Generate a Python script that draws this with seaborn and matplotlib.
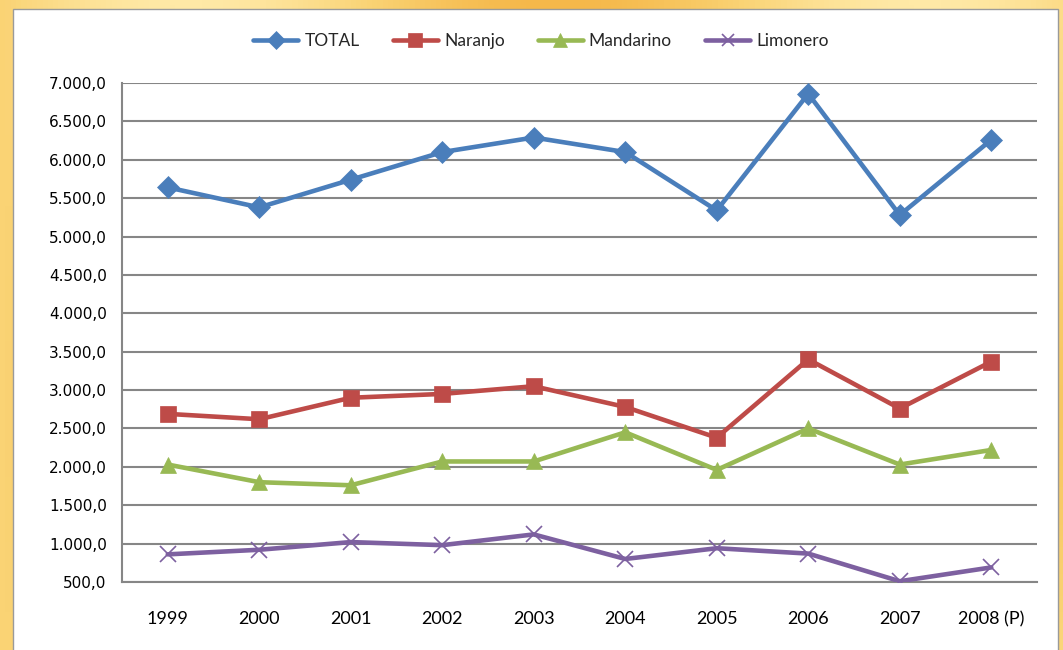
import numpy as np
import pandas as pd
import matplotlib
matplotlib.use("Agg")
import matplotlib.pyplot as plt
from matplotlib.patches import Rectangle
from matplotlib.ticker import FuncFormatter, FixedLocator, NullFormatter
from matplotlib.colors import LinearSegmentedColormap
import seaborn as sns

years = ["1999", "2000", "2001", "2002", "2003", "2004", "2005", "2006", "2007", "2008 (P)"]
total = [5640, 5380, 5740, 6100, 6290, 6100, 5340, 6860, 5280, 6260]
naranjo = [2690, 2620, 2900, 2950, 3050, 2780, 2380, 3400, 2760, 3370]
mandarino = [2030, 1800, 1760, 2070, 2070, 2450, 1960, 2500, 2030, 2220]
limonero = [860, 920, 1020, 980, 1120, 800, 940, 870, 510, 690]
series_names = ["TOTAL", "Naranjo", "Mandarino", "Limonero"]

df = pd.DataFrame({"Año": years, "TOTAL": total, "Naranjo": naranjo,
                   "Mandarino": mandarino, "Limonero": limonero})
long = df.melt(id_vars="Año", var_name="Serie", value_name="Valor")
long["x"] = long["Año"].map({y: i for i, y in enumerate(years)})

sns.set_theme(style="white")
plt.rcParams["font.family"] = ["Lato", "DejaVu Sans"]

W, H = 1063, 650
fig = plt.figure(figsize=(W / 100, H / 100), dpi=100)

# orange background
bg = fig.add_axes([0, 0, 1, 1], zorder=-10)
gx = np.linspace(0, 1, 200)
gy = np.linspace(0, 1, 120)
GX, GY = np.meshgrid(gx, gy)
grad = 0.5 + 0.3 * np.sin(GX * 9) * np.cos(GY * 5)
cmap = LinearSegmentedColormap.from_list("o", ["#F5B84A", "#FAD374", "#FFE9A6"])
bg.imshow(grad, cmap=cmap, aspect="auto", extent=[0, 1, 0, 1])
bg.set_axis_off()
bg.add_patch(Rectangle((13 / W, -0.01), (1058 - 13) / W, 1 - 9 / H + 0.01,
                       transform=bg.transAxes, facecolor="white",
                       edgecolor="#9a9a9a", linewidth=1.0))
bg.set_xlim(0, 1)
bg.set_ylim(0, 1)

ax = fig.add_axes([122 / W, 1 - 582 / H, (1037 - 122) / W, (582 - 83) / H])
ax.set_facecolor("none")

palette = {"TOTAL": "#4A7EBB", "Naranjo": "#BE4B48", "Mandarino": "#98B954", "Limonero": "#7D60A0"}
markers = {"TOTAL": "D", "Naranjo": "s", "Mandarino": "^", "Limonero": "x"}
sizes_m = {"TOTAL": 11, "Naranjo": 11.5, "Mandarino": 12, "Limonero": 11}

for name in series_names:
    sub = long[long["Serie"] == name]
    sns.lineplot(data=sub, x="x", y="Valor", ax=ax, color=palette[name],
                 marker=markers[name], markersize=sizes_m[name],
                 markeredgecolor=palette[name], markeredgewidth=1.2 if name == "Limonero" else 0.5,
                 linewidth=3.3, label=name, zorder=3)

ax.set_xlim(-0.5, 9.5)
ax.set_ylim(500, 7000)
ax.set_yticks(np.arange(500, 7001, 500))
ax.yaxis.set_major_formatter(FuncFormatter(
    lambda v, p: f"{v:,.1f}".replace(",", "X").replace(".", ",").replace("X", ".")))
ax.set_xticks(range(len(years)))
ax.set_xticklabels(years)
ax.xaxis.set_minor_locator(FixedLocator(np.arange(-0.5, 10, 1)))
ax.xaxis.set_minor_formatter(NullFormatter())
ax.tick_params(axis="x", which="major", length=0, pad=21, labelsize=13, colors="black")
ax.tick_params(axis="x", which="minor", length=6, width=1.2, color="#868686", direction="out")
ax.tick_params(axis="y", which="major", length=6, width=1.2, color="#868686", direction="out",
               labelsize=11, colors="black", pad=5)
for lbl in ax.get_yticklabels():
    lbl.set_family(["DejaVu Sans"])
    lbl.set_color("black")
for lbl in ax.get_xticklabels():
    lbl.set_color("black")
ax.grid(axis="y", color="#868686", linewidth=1.5, zorder=0)
ax.set_axisbelow(True)
for s in ["top", "right"]:
    ax.spines[s].set_visible(False)
for s in ["left", "bottom"]:
    ax.spines[s].set_visible(True)
    ax.spines[s].set_color("#868686")
    ax.spines[s].set_linewidth(1.5)
ax.set_xlabel("")
ax.set_ylabel("")

ax.legend(loc="center", bbox_to_anchor=(541 / W, (H - 41) / H), bbox_transform=fig.transFigure,
          ncol=4, frameon=False, fontsize=12.5, handlelength=2.6, columnspacing=1.9,
          handletextpad=0.35, markerscale=0.85)

fig.savefig("out.png", dpi=100)
